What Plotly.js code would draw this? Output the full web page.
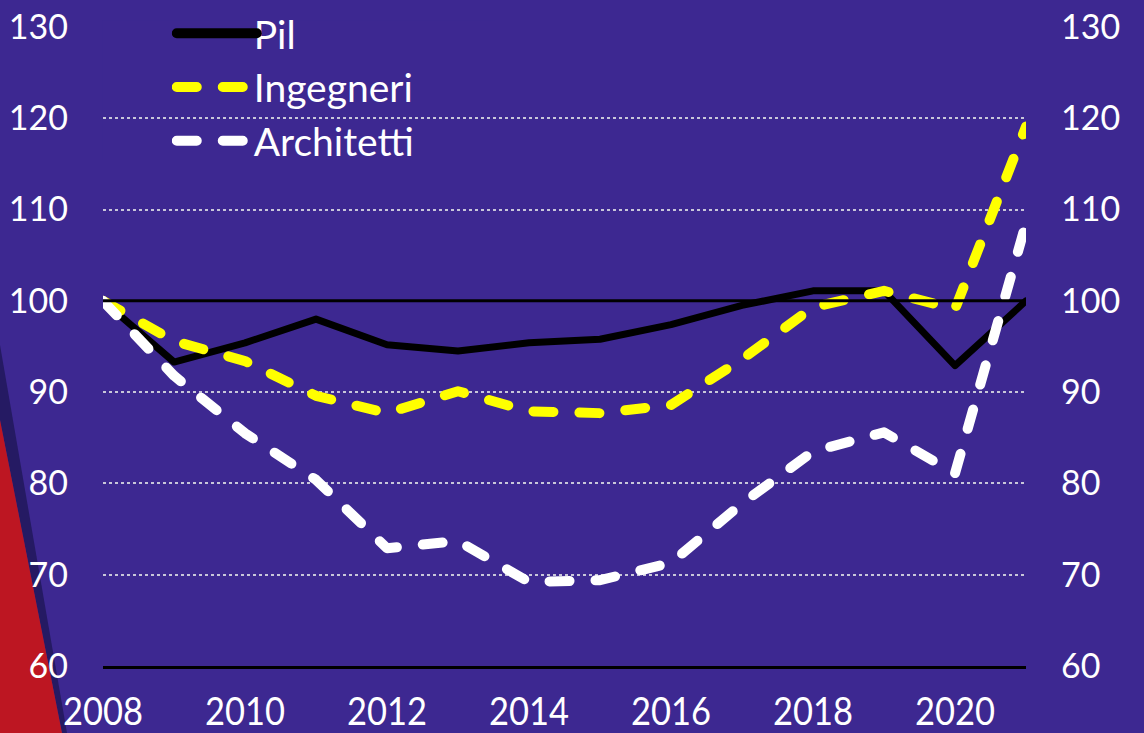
<!DOCTYPE html>
<html>
<head>
<meta charset="utf-8">
<script src="https://cdn.plot.ly/plotly-3.0.1.min.js"></script>
<style>
html,body{margin:0;padding:0;background:#3d2891;}
#chart{width:1144px;height:733px;}
</style>
</head>
<body>
<div id="chart"></div>
<script>
const years = [2008,2009,2010,2011,2012,2013,2014,2015,2016,2017,2018,2019,2020,2021];
const pil = [100,93.3,95.4,98.0,95.2,94.5,95.4,95.8,97.4,99.5,101.1,101.1,92.9,100.0];
const ingegneri = [100,95.6,93.4,89.6,87.7,90.1,87.9,87.7,88.6,93.6,99.3,101.1,99.1,119.1];
const architetti = [100,91.8,85.5,80.4,72.9,73.7,69.2,69.4,71.3,77.8,83.5,85.6,81.1,108.5];
const yTicks = [60,70,80,90,100,110,120,130];
const xTicks = [2008,2010,2012,2014,2016,2018,2020];
const seriesNames = ['Pil','Ingegneri','Architetti'];

const BG = '#3d2891';
const labelFont = {family:'Lato, "Open Sans", sans-serif', size:34, color:'#ffffff'};

const traces = [
  {x: years, y: pil, name: seriesNames[0], type:'scatter', mode:'lines',
   line:{color:'#000000', width:7}},
  {x: years, y: ingegneri, name: seriesNames[1], type:'scatter', mode:'lines',
   line:{color:'#ffff00', width:10, dash:'20px,26px'}},
  {x: years, y: architetti, name: seriesNames[2], type:'scatter', mode:'lines',
   line:{color:'#ffffff', width:10, dash:'20px,26px'}},
  {x: [], y: [], yaxis:'y2', showlegend:false, hoverinfo:'skip'}
];

function px2paperX(p){ return (p-103)/923; }
function px2paperY(p){ return (666-p)/639; }

const redPath = `M ${px2paperX(0)} ${px2paperY(420)} L ${px2paperX(62)} ${px2paperY(733)} L ${px2paperX(0)} ${px2paperY(733)} Z`;
const bandPath = `M ${px2paperX(0)} ${px2paperY(345)} L ${px2paperX(67)} ${px2paperY(733)} L ${px2paperX(62)} ${px2paperY(733)} L ${px2paperX(0)} ${px2paperY(420)} Z`;

const layout = {
  width:1144, height:733,
  paper_bgcolor: BG, plot_bgcolor: BG,
  margin:{l:103, r:118, t:27, b:67, autoexpand:false},
  showlegend:true,
  legend:{x:0.0745, y:1.04, xanchor:'left', yanchor:'top', bgcolor:'rgba(0,0,0,0)',
          font:{family:'Lato, "Open Sans", sans-serif', size:39, color:'#ffffff'},
          tracegroupgap:0, itemwidth:80},
  xaxis:{range:[2008,2021], tickvals:xTicks, ticktext:xTicks.map(String), automargin:false,
         showgrid:false, zeroline:false, showline:true, linecolor:'#000000', linewidth:3,
         ticks:'', ticklabelstandoff:10,
         tickfont:{family:'Lato, "Open Sans", sans-serif', size:38, color:'#ffffff'}},
  yaxis:{range:[60,130], tickvals:yTicks, ticktext:yTicks.map(String), automargin:false,
         showgrid:true, gridcolor:'rgba(215,215,225,0.9)', gridwidth:2, griddash:'dot',
         zeroline:false, showline:false, ticks:'', ticklabelstandoff:34,
         tickfont:labelFont},
  yaxis2:{range:[60,130], tickvals:yTicks, ticktext:yTicks.map(String), overlaying:'y', side:'right',
          automargin:false, showgrid:false, zeroline:false, showline:false, ticks:'', ticklabelstandoff:34,
          tickfont:labelFont},
  shapes:[
    {type:'path', xref:'paper', yref:'paper', path:bandPath, fillcolor:'#251a63', line:{width:0}, layer:'below'},
    {type:'path', xref:'paper', yref:'paper', path:redPath, fillcolor:'#bd1622', line:{width:0}, layer:'below'},
    {type:'rect', xref:'paper', yref:'paper', x0:-0.001, x1:px2paperX(495), y0:px2paperY(160), y1:1.01,
     fillcolor:BG, line:{width:0}, layer:'between'},
    {type:'line', xref:'paper', yref:'y', x0:0, x1:1, y0:100, y1:100, line:{color:'#000000', width:3}, layer:'above'}
  ]
};

Plotly.newPlot('chart', traces, layout, {displayModeBar:false, staticPlot:true}).then(function(gd){
  gd.querySelectorAll('.scatterlayer path.js-line').forEach(function(p){
    p.style.strokeLinecap = 'round';
    p.style.strokeLinejoin = 'round';
  });
  gd.querySelectorAll('.legend .legendlines path').forEach(function(p){
    p.style.strokeLinecap = 'round';
    p.style.strokeWidth = '10px';
  });
  gd.querySelectorAll('.legend text.legendtext').forEach(function(t){
    const x = parseFloat(t.getAttribute('x')) || 0;
    t.setAttribute('x', String(x - 8));
  });
  gd.querySelectorAll('.xtick text').forEach(function(t){
    t.setAttribute('textLength', '80');
    t.setAttribute('lengthAdjust', 'spacingAndGlyphs');
  });
});
</script>
</body>
</html>
